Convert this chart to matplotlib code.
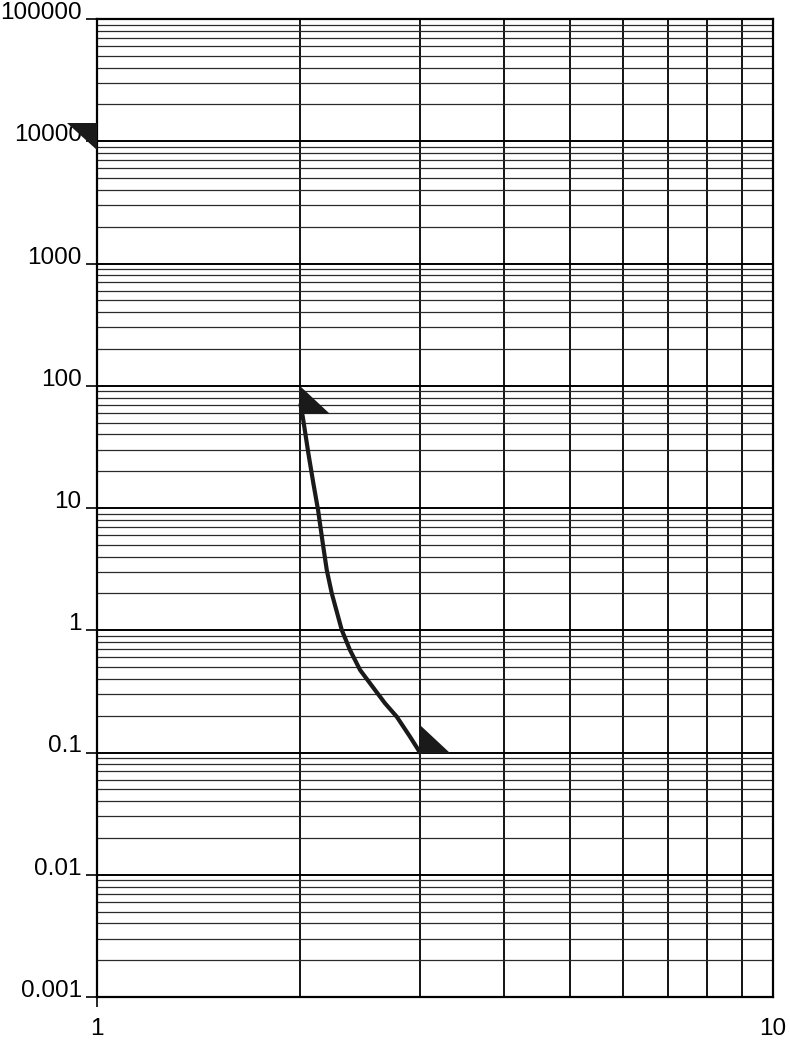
import numpy as np
import matplotlib
matplotlib.use("Agg")
import matplotlib.pyplot as plt
from matplotlib.path import Path
from matplotlib.ticker import LogLocator, NullFormatter

plt.rcParams["font.family"] = ["Liberation Sans", "DejaVu Sans"]

# ---- data ----
y_tick_values = [0.001, 0.01, 0.1, 1, 10, 100, 1000, 10000, 100000]
y_tick_labels = ["0.001", "0.01", "0.1", "1", "10", "100", "1000", "10000", "100000"]
x_tick_values = [1, 10]
x_tick_labels = ["1", "10"]

curve_x = [2.0, 2.0155, 2.0543, 2.0896, 2.1233, 2.1577, 2.1872, 2.2248, 2.3018,
           2.3669, 2.4500, 2.5780, 2.6673, 2.7758, 2.9044, 2.988, 3.0]
curve_y = [70, 55.8, 28.0, 15.9, 9.63, 5.14, 3.11, 2.005, 1.005,
           0.690, 0.473, 0.3245, 0.2526, 0.1963, 0.1346, 0.105, 0.1]

marker_x = [1, 2, 3]
marker_y = [10000, 100, 0.1]

# ---- figure ----
DPI = 100
fig = plt.figure(figsize=(7.9, 10.42), dpi=DPI)
ax = fig.add_axes([97/790, 1 - 997/1042, (773 - 97)/790, (997 - 19)/1042])
ax.set_xscale("log")
ax.set_yscale("log")
ax.set_xlim(1, 10)
ax.set_ylim(0.001, 100000)

fs = 17.5

ax.set_yticks(y_tick_values)
ax.set_yticklabels(y_tick_labels, fontsize=fs)
ax.set_xticks(x_tick_values)
ax.set_xticklabels(x_tick_labels, fontsize=fs)
ax.yaxis.set_minor_locator(LogLocator(base=10, subs=np.arange(2, 10), numticks=100))
ax.xaxis.set_minor_locator(LogLocator(base=10, subs=np.arange(2, 10), numticks=100))
ax.yaxis.set_minor_formatter(NullFormatter())
ax.xaxis.set_minor_formatter(NullFormatter())

ax.tick_params(axis="y", which="major", direction="out", length=8, width=1.2,
               pad=3, color="black")
ax.tick_params(axis="x", which="major", direction="out", length=7, width=1.2,
               pad=8, color="black")
ax.tick_params(which="minor", length=0)
for lab in ax.get_yticklabels():
    lab.set_verticalalignment("baseline")
# no visible tick mark below x = 10
xt = ax.xaxis.get_major_ticks()
xt[-1].tick1line.set_visible(False)

ax.grid(which="major", axis="both", color="black", linewidth=1.4)
ax.grid(which="minor", axis="x", color="black", linewidth=1.3)
ax.grid(which="minor", axis="y", color="#2a2a2a", linewidth=0.9)
ax.set_axisbelow(True)

for s in ax.spines.values():
    s.set_linewidth(1.6)
    s.set_color("black")

# ---- curve ----
ax.plot(curve_x, curve_y, color="#1a1a1a", linewidth=3.0, solid_capstyle="round",
        solid_joinstyle="round", zorder=3)

# ---- triangle markers (shapes in pixel units relative to anchor) ----
def tri_marker(verts):
    v = np.array(verts + [verts[0]], dtype=float)
    codes = [Path.MOVETO, Path.LINETO, Path.LINETO, Path.CLOSEPOLY]
    return Path(v, codes), np.max(np.abs(v))

shapes = [
    [(-30, 18), (0, 18), (0, -9)],
    [(0, 0), (0, -28), (30, -28)],
    [(0, 0), (0, 28), (30, 0)],
]
for mx, my, sh in zip(marker_x, marker_y, shapes):
    p, r = tri_marker(sh)
    ax.plot([mx], [my], linestyle="none", marker=p, markersize=2 * r * 72 / DPI,
            markerfacecolor="#1a1a1a", markeredgewidth=0, clip_on=False, zorder=4)

fig.savefig("out.png", dpi=DPI)
